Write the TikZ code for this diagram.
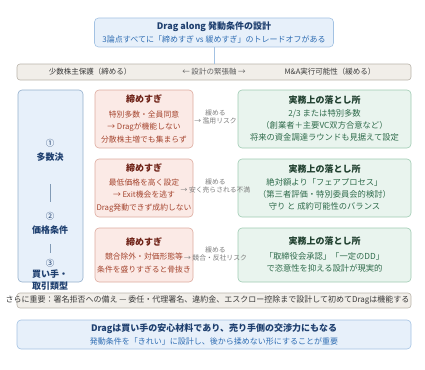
\documentclass[tikz,border=0pt]{standalone}
\usepackage{fontspec}
\setmainfont{Noto Sans CJK JP}
\usetikzlibrary{positioning}

\definecolor{bluebg}{HTML}{E7F0FA}
\definecolor{bluebd}{HTML}{A3C2E3}
\definecolor{bluedk}{HTML}{1E3F6F}
\definecolor{bluemd}{HTML}{2F6DB3}
\definecolor{bandbg}{HTML}{F1EEE9}
\definecolor{bandbd}{HTML}{B9B3AA}
\definecolor{banddk}{HTML}{3A3A3A}
\definecolor{redbg}{HTML}{FBEAE6}
\definecolor{redbd}{HTML}{DDAA9E}
\definecolor{reddk}{HTML}{6E2116}
\definecolor{redmd}{HTML}{A5452F}
\definecolor{grnbg}{HTML}{E9F4EE}
\definecolor{grnbd}{HTML}{9ECBB2}
\definecolor{grndk}{HTML}{1F3F2E}
\definecolor{grnmd}{HTML}{2F6B4B}
\definecolor{lblgray}{HTML}{7A7A7A}

\newcommand{\fs}[2]{\fontsize{#1}{#2}\selectfont}

\tikzset{
  box/.style={rounded corners=4pt, line width=0.6pt, inner sep=0pt, align=center},
  bluebox/.style={box, draw=bluebd, fill=bluebg},
  bandbox/.style={draw=bandbd, fill=bandbg, rounded corners=3pt, line width=0.6pt,
    minimum width=394pt, inner sep=0pt},
  redbox/.style={box, draw=redbd, fill=redbg, minimum width=98pt, text=redmd,
    font=\fs{7.8}{12.5}},
  grnbox/.style={box, draw=grnbd, fill=grnbg, minimum width=173pt, text=grnmd,
    font=\fs{8.3}{12}},
  coltext/.style={inner sep=0pt, align=center, text=bluedk},
  bandtext/.style={inner sep=0pt, font=\fs{7.5}{9}, text=banddk},
  lbl/.style={inner sep=0pt, align=center, text=lblgray, font=\fs{6.8}{8}},
}

\begin{document}
\begin{tikzpicture}[x=1pt, y=-1pt]
    \useasboundingbox (0,0) rectangle (425,369);

    % header
    \node (top) [bluebox, minimum width=239pt, minimum height=29pt, font=\fs{8}{13}, text=bluemd]
      at (214,32.5) {{\fs{9}{13}\bfseries\color{bluedk}Drag along 発動条件の設計}\\
      3論点すべてに「締めすぎ vs 緩めすぎ」のトレードオフがある};

    % tension axis
    \node (band) [bandbox, minimum height=16pt] at (214,72) {};
    \node (bandL) [bandtext] at (90,72) {少数株主保護（締める）};
    \node (bandC) [bandtext, text=lblgray!80!black] at (214,72) {← 設計の緊張軸 →};
    \node (bandR) [bandtext] at (330,72) {M\&A実行可能性（緩める）};
    \draw[bluebd, line width=0.6pt] (top) -- (band);

    % issue column
    \node (col) [bluebox, draw=bluebd!90!black, minimum width=65pt, minimum height=192pt] at (50.5,186) {};
    \node (c1) [coltext, font=\fs{8.5}{14}] at (50,150) {①\\{\fs{9}{14}\bfseries 多数決}};
    \node (c2) [coltext, font=\fs{8.5}{14}] at (50,223) {②\\{\fs{9}{14}\bfseries 価格条件}};
    \node (c3) [coltext, font=\fs{8.5}{11.5}] at (50,274.5) {③\\{\fs{9}{11.5}\bfseries 買い手・}\\{\fs{9}{11.5}\bfseries 取引類型}};
    \draw[bluebd!80!black, line width=0.6pt, shorten <=23pt, shorten >=10pt] (c1) -- (c2);
    \draw[bluebd!80!black, line width=0.6pt, shorten <=10pt, shorten >=6pt] (c2) -- (c3);

    % too tight
    \node (r1) [redbox, minimum height=58pt] at (144,119)
      {{\fs{9}{12.5}\bfseries\color{reddk}締めすぎ}\\[2pt]特別多数・全員同意\\→ Dragが機能しない\\分散株主増でも集まらず};
    \node (r2) [redbox, minimum height=58pt] at (144,188)
      {{\fs{9}{12.5}\bfseries\color{reddk}締めすぎ}\\[1pt]最低価格を高く設定\\→ Exit機会を逃す\\Drag発動できず成約しない};
    \node (r3) [redbox, minimum height=54pt] at (144,255)
      {{\fs{9}{12.5}\bfseries\color{reddk}締めすぎ}\\[2pt]競合除外・対価形態等\\条件を盛りすぎると骨抜き};

    % practical compromise
    \node (g1) [grnbox, minimum height=58pt] at (324.5,119)
      {{\fs{9}{12}\bfseries\color{grndk}実務上の落とし所}\\[1pt]2/3 または特別多数\\（創業者＋主要VC双方合意など）\\将来の資金調達ラウンドも見据えて設定};
    \node (g2) [grnbox, minimum height=58pt] at (324.5,188)
      {{\fs{9}{12}\bfseries\color{grndk}実務上の落とし所}\\[1pt]絶対額より「フェアプロセス」\\（第三者評価・特別委員会的検討）\\守り と 成約可能性のバランス};
    \node (g3) [grnbox, minimum height=54pt] at (324.5,255)
      {{\fs{9}{12}\bfseries\color{grndk}実務上の落とし所}\\[3pt]「取締役会承認」「一定のDD」\\で恣意性を抑える設計が現実的};

    % loosening risks
    \path (r1) -- node[lbl, yshift=2pt] (l1) {緩める\\→ 濫用リスク} (g1);
    \path (r2) -- node[lbl, yshift=2pt] (l2) {緩める\\→ 安く売らされる不満} (g2);
    \path (r3) -- node[lbl, yshift=1pt] (l3) {緩める\\→ 競合・反社リスク} (g3);

    % note
    \node (note) [bandbox, minimum height=15pt] at (214,300.5) {};
    \node (notet) [bandtext, font=\fs{8}{9}] at (207.5,300.5)
      {さらに重要：署名拒否への備え — 委任・代理署名、違約金、エスクロー控除まで設計して初めてDragは機能する};

    % conclusion
    \node (concl) [bluebox, minimum width=394pt, minimum height=29pt, font=\fs{8}{13}, text=bluemd]
      at (214,334.5) {{\fs{9}{13}\bfseries\color{bluedk}Dragは買い手の安心材料であり、売り手側の交渉力にもなる}\\
      発動条件を「きれい」に設計し、後から揉めない形にすることが重要};
\end{tikzpicture}
\end{document}
